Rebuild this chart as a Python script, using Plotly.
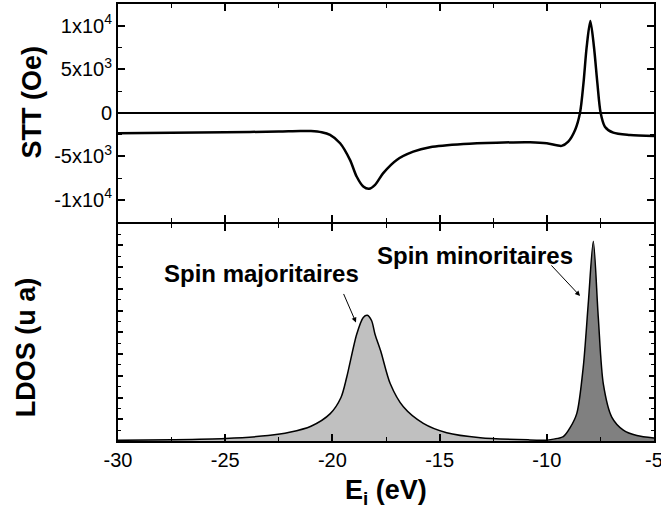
import plotly.graph_objects as go

# STT (Oe) vs E_i (eV)
stt_e = [-30, -27.5, -25, -22.5, -21.5, -21.0, -20.5, -20.11, -19.64, -19.18, -18.87, -18.56,
         -18.29, -18.01, -17.63, -17.0, -16.23, -15.45, -13.89, -12.34, -10.78, -10.0, -9.54,
         -9.31, -9.0, -8.68, -8.45, -8.29, -8.14, -7.97, -7.80, -7.64, -7.49, -7.29, -6.90,
         -6.12, -5.0]
stt = [-2360, -2300, -2250, -2150, -2090, -2110, -2250, -2550, -3510, -5420, -7330, -8480,
       -8740, -8280, -6940, -5420, -4470, -3960, -3590, -3440, -3390, -3510, -3740,
       -3810, -3320, -1980, 0, 3370, 7560, 10540, 7560, 3370, 0, -1600, -2290,
       -2550, -2670]

# LDOS (u a), majority band
maj_e = [-30, -27.5, -25, -23, -22, -21, -20.1, -19.6, -19.33, -18.87, -18.56, -18.37,
         -18.17, -18.01, -17.75, -17.3, -16.69, -15.76, -14.67, -13.1, -10.8, -10.0]
maj = [0.003, 0.006, 0.012, 0.025, 0.04, 0.068, 0.126, 0.2, 0.294, 0.49, 0.568, 0.578,
       0.553, 0.49, 0.415, 0.263, 0.157, 0.081, 0.038, 0.015, 0.005, 0.004]

# LDOS (u a), minority band
mino_e = [-10.0, -9.5, -9.23, -8.92, -8.6, -8.3, -8.06, -7.83, -7.6, -7.36, -6.97, -6.43,
          -5.8, -5.0]
mino = [0.004, 0.012, 0.02, 0.06, 0.127, 0.34, 0.64, 0.918, 0.57, 0.26, 0.11, 0.05,
        0.025, 0.014]

e_ticks = [-30, -25, -20, -15, -10, -5]
e_labels = ["-30", "-25", "-20", "-15", "-10", "-5"]
stt_ticks = [-10000, -5000, 0, 5000, 10000]
stt_labels = ["-1x10<sup>4</sup>", "-5x10<sup>3</sup>", "0", "5x10<sup>3</sup>", "1x10<sup>4</sup>"]

FONT = "Liberation Sans, Arial, sans-serif"

fig = go.Figure()
fig.add_scatter(x=maj_e, y=maj, mode="lines", fill="tozeroy", fillcolor="#c0c0c0",
                line=dict(color="black", width=1.5, shape="spline", smoothing=0.8),
                xaxis="x", yaxis="y", showlegend=False, hoverinfo="skip")
fig.add_scatter(x=mino_e, y=mino, mode="lines", fill="tozeroy", fillcolor="#808080",
                line=dict(color="black", width=1.5, shape="spline", smoothing=0.8),
                xaxis="x", yaxis="y", showlegend=False, hoverinfo="skip")
fig.add_scatter(x=stt_e, y=stt, mode="lines",
                line=dict(color="black", width=2.5, shape="spline", smoothing=0.8),
                xaxis="x2", yaxis="y2", showlegend=False, hoverinfo="skip")

ax_common = dict(showgrid=False, showline=True, linecolor="black", linewidth=2,
                 mirror="allticks", ticks="inside", tickcolor="black", tickwidth=1.5,
                 automargin=False,
                 tickfont=dict(family=FONT, size=20, color="black"))
minor_x = dict(dtick=2.5, tick0=-30, ticklen=4, ticks="inside", tickcolor="black", tickwidth=1.2)

# axis lines sit just outside each panel; a 2px gap lets the two middle lines coincide
gap = 1.0 / 437

fig.update_layout(
    width=661, height=515,
    margin=dict(l=118, r=7, t=4, b=74, autoexpand=False),
    plot_bgcolor="white", paper_bgcolor="white",
    font=dict(family=FONT, color="black"),
    xaxis=dict(domain=[0, 1], anchor="y", range=[-30, -5], tickmode="array",
               tickvals=e_ticks, ticktext=e_labels, ticklen=7, ticklabeloverflow="allow",
               minor=minor_x, zeroline=False, **ax_common),
    xaxis2=dict(domain=[0, 1], anchor="y2", matches="x", range=[-30, -5], tickmode="array",
                tickvals=e_ticks, ticklen=7, showticklabels=False,
                minor=minor_x, zeroline=False, **ax_common),
    yaxis=dict(domain=[0, 0.5 - gap], anchor="x", range=[0, 1], dtick=0.1, tick0=0, ticklen=5,
               showticklabels=False, zeroline=False,
               minor=dict(dtick=0.05, ticklen=3, ticks="inside", tickcolor="black", tickwidth=1.2),
               **ax_common),
    yaxis2=dict(domain=[0.5 + gap, 1], anchor="x2", range=[-12500, 12500], tickvals=stt_ticks,
                ticktext=stt_labels, ticklen=7,
                minor=dict(dtick=2500, ticklen=4, ticks="inside", tickcolor="black", tickwidth=1.2),
                zeroline=True, zerolinecolor="black", zerolinewidth=1.5,
                **ax_common),
)

bold = dict(family=FONT, size=24, color="black", weight="bold")
title_font = dict(family=FONT, size=27, color="black", weight="bold")

fig.add_annotation(x=-23.3, y=0.768, xref="x", yref="y", text="Spin majoritaires",
                   showarrow=False, font=bold, xanchor="center", yanchor="middle")
fig.add_annotation(x=-13.35, y=0.855, xref="x", yref="y", text="Spin minoritaires",
                   showarrow=False, font=bold, xanchor="center", yanchor="middle")
fig.add_annotation(x=-18.9, y=0.545, xref="x", yref="y", text="", showarrow=True,
                   ax=-13, ay=-30, arrowhead=2, arrowsize=1, arrowwidth=1, arrowcolor="black")
fig.add_annotation(x=-8.45, y=0.667, xref="x", yref="y", text="", showarrow=True,
                   ax=-30, ay=-32, arrowhead=2, arrowsize=1, arrowwidth=1, arrowcolor="black")

fig.add_annotation(x=-0.16, y=0.775, xref="paper", yref="paper", text="STT (Oe)",
                   textangle=-90, showarrow=False, font=title_font,
                   xanchor="center", yanchor="middle")
fig.add_annotation(x=-0.17, y=0.214, xref="paper", yref="paper", text="LDOS (u a)",
                   textangle=-90, showarrow=False, font=title_font,
                   xanchor="center", yanchor="middle")
fig.add_annotation(x=0.5, y=-0.116, xref="paper", yref="paper", text="E<sub>i</sub> (eV)",
                   showarrow=False, font=title_font, xanchor="center", yanchor="middle")

# the page body has a default 8px margin; drop it so the figure sits at the corner
fig.write_html("out.html", config={"displayModeBar": False},
               post_script="document.body.style.margin='0px';")
